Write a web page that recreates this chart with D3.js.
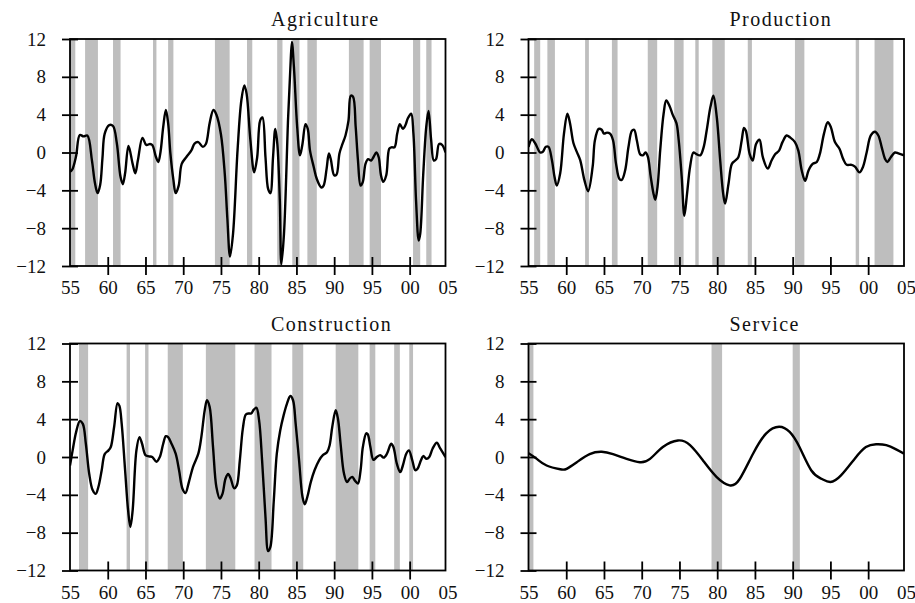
<!DOCTYPE html>
<html>
<head>
<meta charset="utf-8">
<script src="https://cdn.jsdelivr.net/npm/d3@7"></script>
<style>
  body { margin: 0; background: #fff; }
  svg { display: block; }
  text { font-family: "Liberation Serif", serif; fill: #111; }
</style>
</head>
<body>
<svg width="915" height="603"></svg>
<script>
// tick labels
const xTickYears = [1955, 1960, 1965, 1970, 1975, 1980, 1985, 1990, 1995, 2000, 2005];
const xTickLabels = ["55", "60", "65", "70", "75", "80", "85", "90", "95", "00", "05"];
const yTicks = [12, 8, 4, 0, -4, -8, -12];

const titles = ["Agriculture", "Production", "Construction", "Service"];

// [year, value]
const agriculture = [
  [1955.0,-2.05],[1955.3,-1.8],[1955.8,-0.4],[1956.3,1.85],[1956.8,1.7],[1957.3,1.8],
  [1957.9,-0.8],[1958.3,-3.2],[1958.65,-4.3],[1959.0,-3.4],[1959.3,-0.6],[1959.6,2.0],
  [1960.2,2.9],[1960.7,2.8],[1961.2,1.0],[1961.7,-2.6],[1962.0,-3.35],[1962.3,-2.2],
  [1962.75,0.7],[1963.3,-1.2],[1963.65,-2.2],[1964.0,-0.8],[1964.6,1.55],[1965.1,0.8],
  [1965.6,0.9],[1965.9,0.8],[1966.4,-0.5],[1966.7,-1.0],[1967.0,0.1],[1967.35,2.7],
  [1967.7,4.5],[1968.0,3.1],[1968.3,-0.1],[1968.7,-2.9],[1969.0,-4.3],[1969.4,-3.5],
  [1969.8,-1.2],[1970.4,-0.5],[1971.1,0.25],[1971.5,0.95],[1972.0,1.1],[1972.6,0.6],
  [1973.0,0.9],[1973.5,3.1],[1974.0,4.5],[1974.4,4.0],[1975.0,1.9],[1975.5,-2.2],
  [1975.85,-7.0],[1976.2,-11.0],[1976.6,-8.6],[1977.2,0.25],[1977.7,5.5],[1978.1,7.1],
  [1978.4,6.2],[1978.9,1.3],[1979.4,-2.1],[1979.8,-0.5],[1980.2,3.4],[1980.5,3.7],
  [1980.9,-0.5],[1981.25,-3.85],[1981.55,-4.3],[1981.9,-0.5],[1982.2,2.5],[1982.47,0.9],
  [1982.8,-5.1],[1983.0,-11.8],[1983.35,-8.6],[1983.9,3.7],[1984.2,9.0],[1984.4,11.7],
  [1984.67,9.0],[1985.1,2.7],[1985.47,-0.3],[1985.8,0.9],[1986.2,3.0],[1986.5,2.5],
  [1986.8,0.2],[1987.3,-1.55],[1987.7,-2.8],[1988.3,-3.7],[1988.6,-3.5],[1989.0,-1.7],
  [1989.3,-0.1],[1989.55,-0.7],[1990.0,-2.4],[1990.3,-2.35],[1990.7,-0.1],[1991.1,0.9],
  [1991.5,1.8],[1991.9,3.4],[1992.2,6.0],[1992.5,5.9],[1992.85,2.7],[1993.15,-0.8],
  [1993.5,-3.5],[1993.8,-3.1],[1994.15,-1.2],[1994.5,-0.7],[1994.9,-0.85],[1995.2,-0.5],
  [1995.6,0.0],[1995.9,-0.5],[1996.2,-2.4],[1996.5,-3.1],[1996.9,-2.4],[1997.3,0.4],
  [1997.6,0.55],[1998.0,0.55],[1998.35,2.0],[1998.7,3.0],[1999.1,2.5],[1999.45,2.9],
  [1999.75,3.6],[2000.2,4.1],[2000.5,2.0],[2000.85,-5.1],[2001.2,-9.3],[2001.4,-8.6],
  [2001.8,-2.3],[2002.2,2.7],[2002.5,4.4],[2002.85,1.3],[2003.2,-0.85],[2003.5,-0.7],
  [2003.9,0.9],[2004.3,0.8],[2004.75,0.0]
];

const production = [
  [1955.0,0.6],[1955.45,1.4],[1955.9,0.95],[1956.55,0.0],[1956.9,0.07],[1957.3,0.6],
  [1957.65,0.6],[1958.1,-0.8],[1958.45,-2.6],[1958.75,-3.5],[1959.2,-2.2],[1959.7,2.0],
  [1960.15,4.1],[1960.5,3.1],[1960.95,1.0],[1961.4,0.07],[1961.85,-0.8],[1962.4,-2.9],
  [1962.9,-4.1],[1963.5,-1.5],[1963.8,1.3],[1964.3,2.5],[1964.7,2.4],[1965.0,2.0],
  [1965.4,2.1],[1965.8,2.0],[1966.2,1.3],[1966.6,-1.2],[1967.05,-2.8],[1967.35,-2.9],
  [1967.8,-1.9],[1968.25,0.6],[1968.7,2.3],[1969.0,2.4],[1969.35,1.3],[1969.8,-0.2],
  [1970.15,-0.3],[1970.5,0.0],[1970.8,-0.4],[1971.2,-2.6],[1971.55,-4.3],[1971.8,-5.0],
  [1972.1,-3.6],[1972.45,0.25],[1972.9,4.1],[1973.25,5.5],[1973.7,4.9],[1974.1,4.0],
  [1974.6,3.1],[1974.9,1.3],[1975.3,-2.6],[1975.65,-6.7],[1976.0,-4.4],[1976.4,-1.55],
  [1976.85,0.0],[1977.2,-0.15],[1977.75,-0.3],[1978.2,0.55],[1978.6,2.3],[1979.1,4.8],
  [1979.5,6.0],[1979.95,3.7],[1980.4,-0.85],[1980.8,-4.4],[1981.05,-5.4],[1981.5,-3.3],
  [1981.95,-1.2],[1982.4,-0.85],[1982.8,-0.5],[1983.25,1.3],[1983.55,2.6],[1983.8,2.3],
  [1984.3,-0.15],[1984.7,-0.85],[1985.15,0.9],[1985.6,1.35],[1986.05,-0.5],[1986.7,-1.7],
  [1987.2,-0.85],[1987.65,-0.2],[1988.2,0.2],[1988.65,1.1],[1989.2,1.8],[1989.65,1.6],
  [1990.3,1.1],[1990.75,0.2],[1991.2,-1.9],[1991.65,-3.0],[1992.1,-1.9],[1992.65,-1.2],
  [1993.2,-1.0],[1993.6,-0.15],[1994.15,2.0],[1994.65,3.2],[1995.05,2.7],[1995.6,1.1],
  [1996.2,0.4],[1996.7,-0.7],[1997.15,-1.3],[1997.8,-1.3],[1998.25,-1.5],[1998.85,-2.1],
  [1999.3,-1.55],[1999.8,0.0],[2000.35,1.8],[2000.9,2.2],[2001.35,1.8],[2001.8,0.55],
  [2002.25,-0.7],[2002.55,-1.0],[2003.0,-0.5],[2003.55,0.0],[2004.0,-0.1],[2004.75,-0.3]
];

const construction = [
  [1955.0,-0.9],[1955.35,0.7],[1955.8,2.6],[1956.3,3.8],[1956.7,3.5],[1957.1,1.4],
  [1957.55,-1.8],[1958.0,-3.5],[1958.4,-3.9],[1958.75,-3.2],[1959.2,-1.4],[1959.6,0.3],
  [1960.1,0.7],[1960.4,1.05],[1960.85,3.2],[1961.3,5.7],[1961.55,5.4],[1961.85,3.5],
  [1962.3,-1.4],[1962.7,-5.65],[1963.0,-7.4],[1963.3,-5.65],[1963.8,0.7],[1964.2,2.1],
  [1964.55,1.4],[1965.0,0.2],[1965.45,0.07],[1965.9,0.0],[1966.45,-0.5],[1966.9,0.0],
  [1967.35,1.4],[1967.7,2.2],[1968.0,2.1],[1968.45,1.4],[1969.0,0.35],[1969.45,-1.4],
  [1969.9,-3.35],[1970.3,-3.8],[1970.75,-2.65],[1971.3,-1.05],[1972.0,0.35],[1972.4,2.1],
  [1972.85,4.95],[1973.15,6.0],[1973.5,5.3],[1973.95,1.05],[1974.4,-3.2],[1974.85,-4.4],
  [1975.2,-3.9],[1975.6,-2.3],[1975.95,-1.8],[1976.3,-2.3],[1976.75,-3.3],[1977.1,-3.0],
  [1977.5,-0.35],[1977.9,3.0],[1978.3,4.5],[1978.7,4.6],[1979.0,4.6],[1979.35,5.0],
  [1979.7,5.2],[1980.05,3.9],[1980.45,-0.35],[1980.9,-6.35],[1981.25,-9.95],[1981.55,-9.5],
  [1982.0,-4.6],[1982.4,0.35],[1982.85,2.8],[1983.3,4.4],[1983.75,5.65],[1984.2,6.45],
  [1984.55,6.0],[1984.9,3.5],[1985.35,-0.35],[1985.8,-4.2],[1986.1,-5.0],[1986.45,-4.2],
  [1986.9,-2.65],[1987.4,-1.4],[1988.0,-0.35],[1988.5,0.2],[1989.05,0.5],[1989.4,1.25],
  [1989.75,3.2],[1990.2,4.95],[1990.5,4.05],[1990.85,1.4],[1991.3,-1.75],[1991.7,-2.65],
  [1992.05,-2.3],[1992.4,-2.1],[1992.75,-2.5],[1993.15,-2.8],[1993.5,-1.4],[1993.8,1.05],
  [1994.25,2.5],[1994.45,2.4],[1994.8,1.05],[1995.2,-0.3],[1995.65,0.0],[1996.1,0.2],
  [1996.55,-0.07],[1997.0,0.35],[1997.55,1.4],[1997.85,1.05],[1998.3,-0.7],[1998.75,-1.6],
  [1999.1,-0.9],[1999.55,0.35],[1999.9,0.7],[2000.35,-0.35],[2000.75,-1.4],[2001.05,-1.25],
  [2001.5,-0.35],[2001.8,0.1],[2002.25,-0.2],[2002.6,0.0],[2003.05,0.9],[2003.6,1.5],
  [2004.05,0.9],[2004.75,0.0]
];

const service = [
  [1955.0,0.4],[1956.1,-0.2],[1957.4,-0.9],[1959.2,-1.3],[1960.05,-1.25],[1961.4,-0.55],
  [1963.1,0.3],[1964.7,0.55],[1966.2,0.3],[1968.0,-0.2],[1969.75,-0.55],[1971.1,-0.2],
  [1972.8,1.05],[1974.8,1.75],[1976.4,1.25],[1978.1,-0.35],[1979.9,-2.1],[1981.65,-3.0],
  [1983.0,-2.3],[1984.75,0.35],[1986.5,2.5],[1988.2,3.2],[1989.6,2.65],[1990.9,1.05],
  [1992.45,-1.4],[1993.8,-2.3],[1995.0,-2.65],[1996.4,-1.95],[1998.2,-0.2],[1999.7,1.05],
  [2001.05,1.35],[2002.4,1.25],[2003.7,0.8],[2004.75,0.35]
];

// shaded periods [start, end]
const agricultureBands = [
  [1955.0,1955.7],[1957.0,1958.7],[1960.7,1961.7],[1966.0,1966.45],[1968.0,1968.7],
  [1974.2,1976.15],[1978.45,1979.15],[1982.45,1983.15],[1984.45,1985.4],[1986.45,1987.7],
  [1991.95,1993.9],[1994.7,1996.2],[2000.45,2001.4],[2002.2,2002.9]
];
const productionBands = [
  [1955.75,1956.55],[1957.5,1958.5],[1962.5,1963.0],[1966.05,1966.8],[1970.8,1972.05],
  [1974.3,1975.55],[1977.1,1977.55],[1979.35,1981.0],[1984.05,1984.6],[1990.3,1991.55],
  [1998.35,1998.8],[2000.85,2003.35]
];
const constructionBands = [
  [1956.2,1957.4],[1962.5,1962.95],[1964.95,1965.4],[1967.95,1969.95],[1973.0,1976.9],
  [1979.45,1981.7],[1984.45,1985.9],[1990.2,1993.2],[1994.7,1995.45],[1997.95,1998.7],
  [1999.95,2000.45]
];
const serviceBands = [
  [1955.0,1955.65],[1979.25,1980.65],[1990.0,1990.95]
];

const series = [agriculture, production, construction, service];
const bands = [agricultureBands, productionBands, constructionBands, serviceBands];

const svg = d3.select("svg");

const colLeft = [70, 528.5];
const rowTop = [39, 343.5];
const plotW = 375.5;
const plotH = 227;

const x = d3.scaleLinear().domain([1955, 2004.75]).range([0, plotW]);
const y = d3.scaleLinear().domain([-12, 12]).range([plotH, 0]);

// the service series is a smooth trend, the others are quarterly and spiky
const curves = [
  d3.curveCatmullRom.alpha(0.5),
  d3.curveCatmullRom.alpha(0.5),
  d3.curveCatmullRom.alpha(0.5),
  d3.curveNatural
];

const fmtY = d => d < 0 ? "\u2212" + Math.abs(d) : String(d);

series.forEach((data, i) => {
  const left = colLeft[i % 2];
  const top = rowTop[Math.floor(i / 2)];
  const g = svg.append("g").attr("transform", "translate(" + left + "," + top + ")");

  g.append("clipPath").attr("id", "clip" + i)
    .append("rect").attr("width", plotW).attr("height", plotH);

  // shaded periods
  g.append("g").attr("clip-path", "url(#clip" + i + ")")
    .selectAll("rect")
    .data(bands[i])
    .enter().append("rect")
    .attr("x", d => x(d[0]))
    .attr("width", d => x(d[1]) - x(d[0]))
    .attr("y", 0)
    .attr("height", plotH)
    .attr("fill", "#bebebe");

  const line = d3.line()
    .x(d => x(d[0]))
    .y(d => y(d[1]))
    .curve(curves[i]);

  g.append("path")
    .datum(data)
    .attr("clip-path", "url(#clip" + i + ")")
    .attr("d", line)
    .attr("fill", "none")
    .attr("stroke", "#000")
    .attr("stroke-width", 2.4)
    .attr("stroke-linejoin", "round");

  // x axis
  const xAxis = g.append("g")
    .attr("transform", "translate(0," + plotH + ")")
    .call(d3.axisBottom(x)
      .tickValues(xTickYears)
      .tickFormat((d, j) => xTickLabels[j])
      .tickSize(9)
      .tickPadding(6));
  xAxis.select(".domain").remove();
  xAxis.selectAll(".tick line")
    .attr("y1", -9)
    .attr("stroke", "#000")
    .attr("stroke-width", 1.8)
    .attr("display", d => (d === 1955 || d === 2005) ? "none" : null);
  xAxis.selectAll("text")
    .attr("font-size", 19)
    .attr("font-family", "Liberation Serif")
    .attr("fill", "#111");

  // y axis
  const yAxis = g.append("g")
    .call(d3.axisLeft(y)
      .tickValues(yTicks)
      .tickFormat(fmtY)
      .tickSize(8)
      .tickPadding(16));
  yAxis.select(".domain").remove();
  yAxis.selectAll(".tick line")
    .attr("x1", 8)
    .attr("stroke", "#000")
    .attr("stroke-width", 1.8);
  yAxis.selectAll("text")
    .attr("font-size", 19)
    .attr("font-family", "Liberation Serif")
    .attr("fill", "#111");

  // frame
  g.append("rect")
    .attr("width", plotW)
    .attr("height", plotH)
    .attr("fill", "none")
    .attr("stroke", "#000")
    .attr("stroke-width", 1.8);

  g.append("text")
    .attr("x", 201)
    .attr("y", -13)
    .attr("font-size", 20)
    .attr("letter-spacing", 1.5)
    .text(titles[i]);
});
</script>
</body>
</html>
